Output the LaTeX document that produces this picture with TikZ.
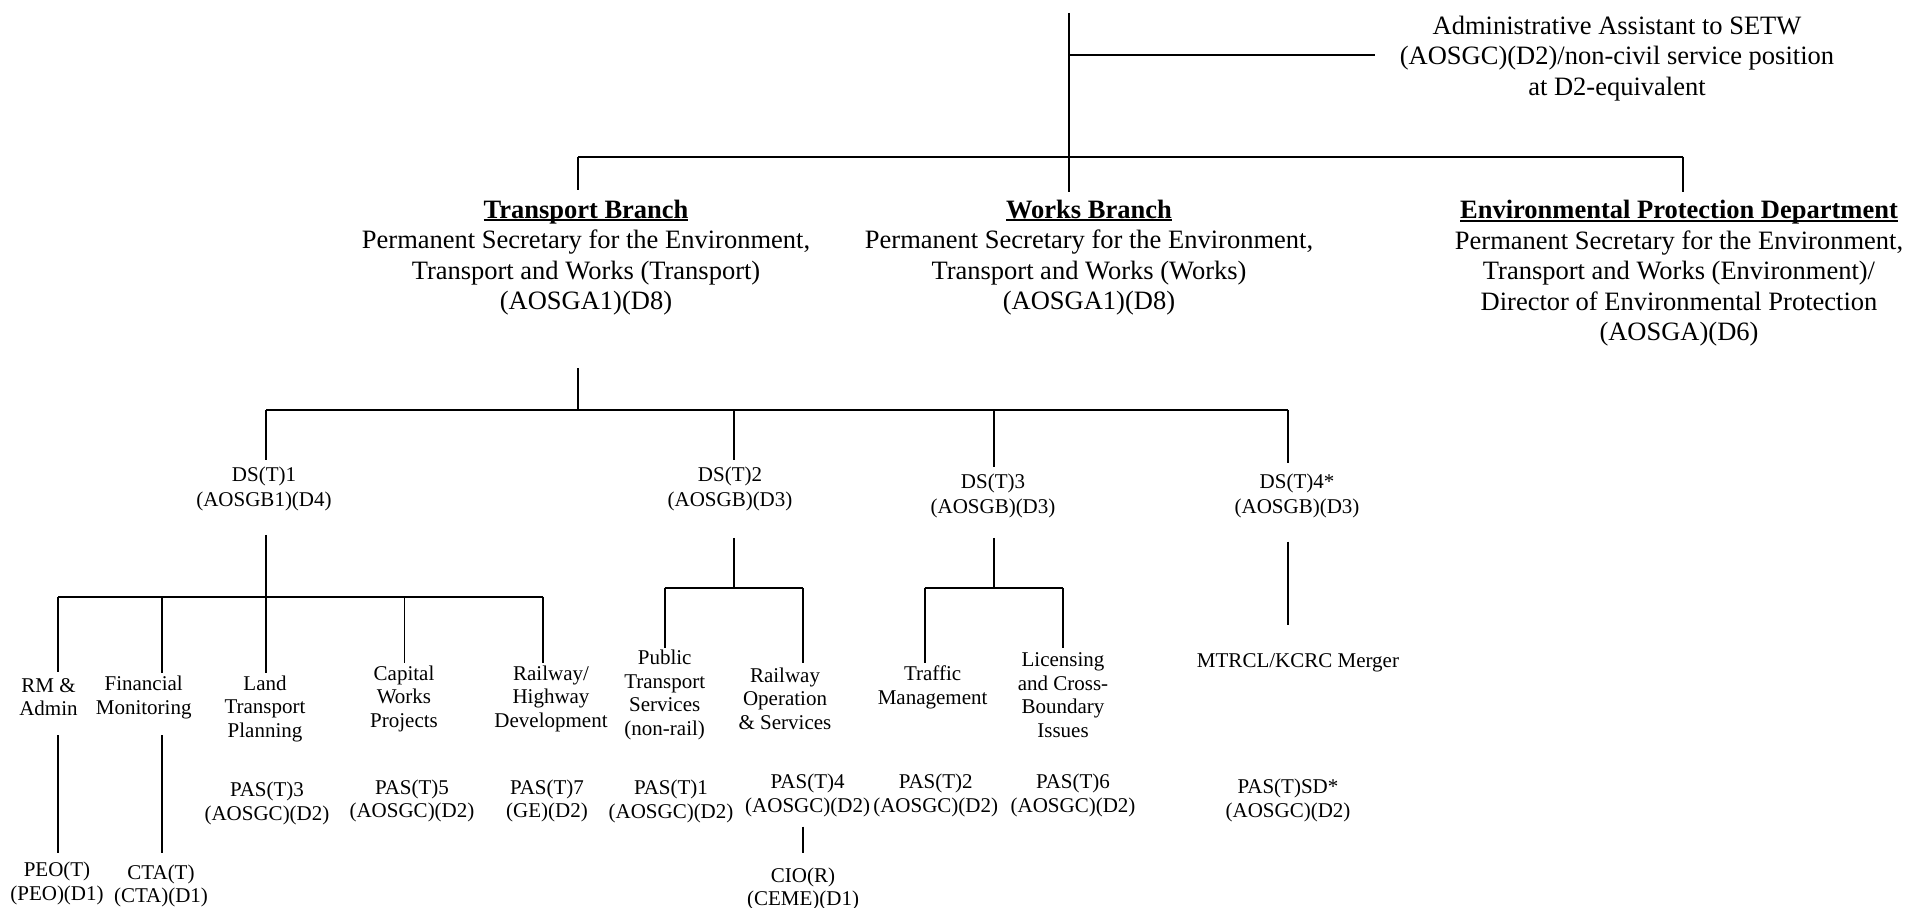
\documentclass[tikz,border=0pt]{standalone}
\usepackage{fontspec}
\setmainfont{Liberation Serif}
% bold heading with an underline set just below the baseline
\newcommand\ulhead[1]{\setbox0\hbox{\textbf{#1}}\rlap{\textbf{#1}}\rule[-0.11em]{\wd0}{0.075em}}
\begin{document}
\begin{tikzpicture}[x=0.5pt,y=-0.5pt,
  link/.style={line width=0.95pt},
  big/.style={inner sep=0pt,align=center,font=\fontsize{13.25}{15.2}\selectfont},
  small/.style={inner sep=0pt,align=center,font=\fontsize{10.5}{11.75}\selectfont},
  dsbox/.style={inner sep=0pt,align=center,font=\fontsize{10.5}{12.5}\selectfont}]
\useasboundingbox (0,0) rectangle (1906,908);

% ---- top level ----
\node[big] (admin) at (1617,58.3) {Administrative Assistant to SETW\\(AOSGC)(D2)/non-civil service position\\at D2-equivalent};
\node[big] (tb) at (586,257.5) {\ulhead{Transport Branch}\\Permanent Secretary for the Environment,\\Transport and Works (Transport)\\(AOSGA1)(D8)};
\node[big] (wb) at (1089,257.5) {\ulhead{Works Branch}\\Permanent Secretary for the Environment,\\Transport and Works (Works)\\(AOSGA1)(D8)};
\node[big] (epd) at (1679,273.3) {\ulhead{Environmental Protection Department}\\Permanent Secretary for the Environment,\\Transport and Works (Environment)/\\Director of Environmental Protection\\(AOSGA)(D6)};

% ---- deputy secretaries ----
\node[dsbox] (ds1) at (264,489.2) {DS(T)1\\(AOSGB1)(D4)};
\node[dsbox] (ds2) at (730,489.2) {DS(T)2\\(AOSGB)(D3)};
\node[dsbox] (ds3) at (993,495.5) {DS(T)3\\(AOSGB)(D3)};
\node[dsbox] (ds4) at (1297,495.5) {DS(T)4*\\(AOSGB)(D3)};

% ---- divisions ----
\node[small] (rm)  at (48.5,697.3) {RM \&\\Admin};
\node[small] (fin) at (143.7,697.3) {Financial\\Monitoring};
\node[small] (ltp) at (265,708.7) {Land\\Transport\\Planning};
\node[small] (cwp) at (404,698.7) {Capital\\Works\\Projects};
\node[small] (rhd) at (551,698.7) {Railway/\\Highway\\Development};
\node[small] (pts) at (664.7,695) {Public\\Transport\\Services\\(non-rail)};
\node[small] (ros) at (785,698.7) {Railway\\Operation\\\& Services};
\node[small] (tm)  at (932.6,687.5) {Traffic\\Management};
\node[small] (lcb) at (1063,695) {Licensing\\and Cross-\\Boundary\\Issues};
\node[small] (mrg) at (1298,663) {MTRCL/KCRC Merger};

% ---- principal assistant secretaries ----
\node[small] (pas3) at (267,803.5) {PAS(T)3\\(AOSGC)(D2)};
\node[small] (pas5) at (412,801) {PAS(T)5\\(AOSGC)(D2)};
\node[small] (pas7) at (547,801) {PAS(T)7\\(GE)(D2)};
\node[small] (pas1) at (671,801.5) {PAS(T)1\\(AOSGC)(D2)};
\node[small] (pas4) at (807.6,795.3) {PAS(T)4\\(AOSGC)(D2)};
\node[small] (pas2) at (935.7,795.3) {PAS(T)2\\(AOSGC)(D2)};
\node[small] (pas6) at (1073,795.3) {PAS(T)6\\(AOSGC)(D2)};
\node[small] (passd) at (1288,800.5) {PAS(T)SD*\\(AOSGC)(D2)};

% ---- D1 posts ----
\node[small] (peo) at (57,883.2) {PEO(T)\\(PEO)(D1)};
\node[small] (cta) at (161,886) {CTA(T)\\(CTA)(D1)};
\node[small] (cio) at (803,889) {CIO(R)\\(CEME)(D1)};

% ---- connector end points ----
\coordinate (top)    at (1069,13);
\coordinate (jadm)   at (1069,55);
\coordinate (adminL) at (1375,55);
\coordinate (b1L)    at (577.8,156.7);
\coordinate (b1R)    at (1682.7,156.7);
\coordinate (tbN)    at (577.8,190);
\coordinate (wbN)    at (1069,191.7);
\coordinate (epdN)   at (1682.7,191.7);
\coordinate (tbS)    at (577.8,368.3);
\coordinate (b2M)    at (577.8,410);
\coordinate (b2a)    at (266,410);
\coordinate (b2b)    at (734,410);
\coordinate (b2c)    at (993.8,410);
\coordinate (b2d)    at (1288,410);
\coordinate (ds1N)   at (266,460);
\coordinate (ds2N)   at (734,460);
\coordinate (ds3N)   at (993.8,466.7);
\coordinate (ds4N)   at (1288,463);
% DS(T)1 group
\coordinate (ds1S)   at (266,535);
\coordinate (b3a)    at (58,596.7);
\coordinate (b3b)    at (161.6,596.7);
\coordinate (b3d)    at (404.5,596.7);
\coordinate (b3e)    at (543,596.7);
\coordinate (rmN)    at (58,671.7);
\coordinate (finN)   at (161.6,673);
\coordinate (ltpN)   at (266,673);
\coordinate (cwpN)   at (404.5,663);
\coordinate (rhdN)   at (543,663);
\coordinate (rmS)    at (58,735);
\coordinate (peoN)   at (58,853);
\coordinate (finS)   at (161.6,735);
\coordinate (ctaN)   at (161.6,853);
% DS(T)2 group
\coordinate (ds2S)   at (734,538);
\coordinate (b4M)    at (734,588);
\coordinate (b4a)    at (664.7,588);
\coordinate (b4b)    at (803,588);
\coordinate (ptsN)   at (664.7,648);
\coordinate (rosN)   at (803,663);
\coordinate (pas4S)  at (803,826.7);
\coordinate (cioN)   at (803,853);
% DS(T)3 group
\coordinate (ds3S)   at (993.8,538);
\coordinate (b5M)    at (993.8,588);
\coordinate (b5a)    at (924.6,588);
\coordinate (b5b)    at (1063,588);
\coordinate (tmN)    at (924.6,663);
\coordinate (lcbN)   at (1063,648);
% DS(T)4 group
\coordinate (ds4S)   at (1288,541.7);
\coordinate (mrgN)   at (1288,625);

% ---- connectors ----
\draw[link] (top) -- (wbN);
\draw[link] (jadm) -- (adminL);
\draw[link] (b1L) -- (b1R);
\draw[link] (b1L) -- (tbN);
\draw[link] (b1R) -- (epdN);

\draw[link] (tbS) -- (b2M);
\draw[link] (b2a) -- (b2d);
\draw[link] (b2a) -- (ds1N);
\draw[link] (b2b) -- (ds2N);
\draw[link] (b2c) -- (ds3N);
\draw[link] (b2d) -- (ds4N);

\draw[link] (ds1S) -- (ltpN);
\draw[link] (b3a) -- (b3e);
\draw[link] (b3a) -- (rmN);
\draw[link] (b3b) -- (finN);
\draw[link] (b3d) -- (cwpN);
\draw[link] (b3e) -- (rhdN);
\draw[link] (rmS) -- (peoN);
\draw[link] (finS) -- (ctaN);

\draw[link] (ds2S) -- (b4M);
\draw[link] (b4a) -- (b4b);
\draw[link] (b4a) -- (ptsN);
\draw[link] (b4b) -- (rosN);
\draw[link] (pas4S) -- (cioN);

\draw[link] (ds3S) -- (b5M);
\draw[link] (b5a) -- (b5b);
\draw[link] (b5a) -- (tmN);
\draw[link] (b5b) -- (lcbN);

\draw[link] (ds4S) -- (mrgN);
\end{tikzpicture}
\end{document}
